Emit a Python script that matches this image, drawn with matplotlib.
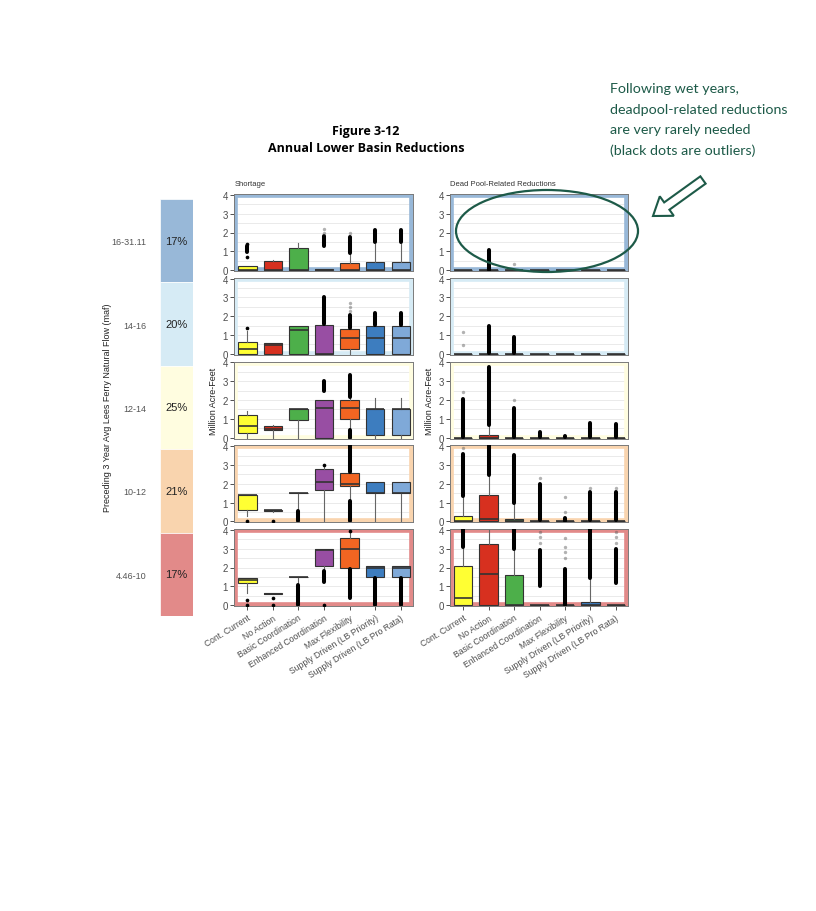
import matplotlib.pyplot as plt
import numpy as np
from matplotlib.patches import Rectangle, Ellipse, FancyArrow

plt.rcParams['font.family'] = ['Liberation Sans', 'DejaVu Sans']

# categories
scenarios = ["Cont. Current", "No Action", "Basic Coordination", "Enhanced Coordination",
             "Max Flexibility", "Supply Driven (LB Priority)", "Supply Driven (LB Pro Rata)"]
scenario_colors = ["#ffff33", "#d7301f", "#4daf4a", "#984ea3", "#f26522", "#3d7dbf", "#7fa9d8"]

flow_bins = ["16-31.11", "14-16", "12-14", "10-12", "4.46-10"]
bin_share = ["17%", "20%", "25%", "21%", "17%"]
bin_colors = ["#98b8d8", "#d6ebf5", "#fffde0", "#f9d4ae", "#e28a89"]

# shortage box stats, one row per flow bin
short_q1 = [[0, 0, 0, 0, 0, 0, 0],
            [0, 0, 0, 0, 0.23, 0, 0],
            [0.23, 0.4, 0.93, 0, 0.98, 0.12, 0.15],
            [0.6, 0.56, 1.5, 1.68, 1.9, 1.5, 1.5],
            [1.15, 0.58, 1.48, 2.1, 2.0, 1.48, 1.5]]
short_med = [[0, 0, 0, 0, 0, 0, 0],
             [0.23, 0.45, 1.27, 0, 0.86, 0.86, 0.86],
             [0.63, 0.48, 1.5, 1.6, 1.57, 1.5, 1.5],
             [1.4, 0.6, 1.5, 2.07, 1.98, 1.5, 1.5],
             [1.35, 0.6, 1.48, 2.95, 2.98, 2.0, 1.95]]
short_q3 = [[0.22, 0.5, 1.17, 0.05, 0.38, 0.42, 0.42],
            [0.63, 0.59, 1.49, 1.52, 1.31, 1.49, 1.49],
            [1.2, 0.63, 1.5, 2.0, 2.0, 1.5, 1.5],
            [1.41, 0.62, 1.5, 2.78, 2.57, 2.1, 2.1],
            [1.42, 0.62, 1.48, 2.98, 3.56, 2.1, 2.1]]
short_wlo = [[0, 0, 0, 0, 0, 0, 0],
             [0, 0, 0, 0, 0, 0, 0],
             [0, 0, 0, 0, 0.45, 0, 0],
             [0.28, 0.5, 0.6, 0, 1.15, 0, 0],
             [0.62, 0.58, 1.1, 1.8, 1.95, 1.48, 1.5]]
short_whi = [[0.22, 0.55, 1.45, 0.05, 0.85, 1.4, 1.4],
             [1.22, 0.6, 1.49, 1.52, 1.35, 1.49, 1.49],
             [1.4, 0.65, 1.5, 2.0, 2.1, 2.1, 2.1],
             [1.41, 0.62, 1.5, 3.0, 2.6, 2.1, 2.1],
             [1.42, 0.62, 1.48, 2.98, 3.9, 2.1, 2.1]]
# dense outlier runs: (row, scenario, low, high)
short_runs = [(0, 0, 0.95, 1.28), (0, 3, 1.28, 1.82), (0, 4, 0.9, 1.75), (0, 5, 1.48, 2.12), (0, 6, 1.48, 2.12),
              (1, 3, 1.6, 3.0), (1, 4, 1.4, 2.05), (1, 5, 1.55, 2.15), (1, 6, 1.55, 2.15),
              (2, 3, 2.5, 3.02), (2, 4, 2.15, 3.35), (2, 4, 0.0, 0.4),
              (3, 2, 0.0, 0.55), (3, 4, 2.65, 4.05), (3, 4, 0.0, 1.1),
              (4, 2, 0.0, 1.05), (4, 3, 1.25, 1.8), (4, 4, 0.35, 1.9), (4, 5, 0.0, 1.45), (4, 6, 0.0, 1.45)]
# single outliers: (row, scenario, value)
short_dots = [(0, 0, 0.68), (0, 0, 1.4), (1, 0, 1.38), (3, 0, 0), (3, 1, 0), (3, 3, 3.0),
              (4, 0, 0.25), (4, 0, 0), (4, 1, 0.4), (4, 1, 0), (4, 3, 0), (4, 4, 3.96)]
short_faint = [(0, 3, 2.0), (0, 3, 2.2), (0, 4, 1.95), (1, 4, 2.3), (1, 4, 2.5), (1, 4, 2.7)]

# dead pool-related reductions box stats
dead_q1 = [[0] * 7 for _ in range(5)]
dead_med = [[0, 0, 0, 0, 0, 0, 0],
            [0, 0, 0, 0, 0, 0, 0],
            [0, 0, 0, 0, 0, 0, 0],
            [0, 0.1, 0, 0, 0, 0, 0],
            [0.4, 1.65, 0, 0, 0, 0, 0]]
dead_q3 = [[0, 0, 0, 0, 0, 0, 0],
           [0, 0, 0, 0, 0, 0, 0],
           [0, 0.14, 0, 0, 0, 0, 0],
           [0.29, 1.41, 0.12, 0, 0, 0, 0],
           [2.08, 3.24, 1.62, 0, 0, 0.18, 0]]
dead_wlo = [[0] * 7 for _ in range(5)]
dead_whi = [[0, 0, 0, 0, 0, 0, 0],
            [0, 0, 0, 0, 0, 0, 0],
            [0, 0.63, 0, 0, 0, 0, 0],
            [1.3, 2.39, 0.96, 0, 0, 0, 0],
            [3.04, 4.05, 2.95, 0, 0, 1.39, 0]]
dead_runs = [(0, 1, 0.02, 1.05),
             (1, 1, 0.05, 1.5), (1, 2, 0.02, 0.9),
             (2, 0, 0.05, 2.05), (2, 1, 0.65, 3.75), (2, 2, 0.05, 1.6), (2, 3, 0.02, 0.3),
             (2, 4, 0.02, 0.1), (2, 5, 0.02, 0.8), (2, 6, 0.02, 0.7),
             (3, 0, 1.35, 3.6), (3, 1, 2.45, 4.05), (3, 2, 1.0, 3.55), (3, 3, 0.05, 2.0),
             (3, 4, 0.02, 0.2), (3, 5, 0.05, 1.55), (3, 6, 0.05, 1.55),
             (4, 0, 3.1, 4.05), (4, 2, 3.0, 4.05), (4, 3, 1.0, 2.95), (4, 4, 0.02, 1.9),
             (4, 5, 1.45, 4.05), (4, 6, 1.15, 3.0)]
dead_dots = []
dead_faint = [(0, 2, 0.3), (1, 0, 1.15), (1, 0, 0.45), (2, 0, 2.4), (2, 2, 2.0),
              (3, 0, 3.9), (3, 3, 2.3), (3, 4, 0.5), (3, 4, 1.3), (3, 5, 1.75), (3, 6, 1.8),
              (4, 3, 3.3), (4, 3, 3.6), (4, 3, 3.9), (4, 4, 2.5), (4, 4, 2.8), (4, 4, 3.1),
              (4, 4, 3.55), (4, 6, 3.3), (4, 6, 3.6), (4, 6, 3.9)]

panel_sets = [
    (short_q1, short_med, short_q3, short_wlo, short_whi, short_runs, short_dots, short_faint),
    (dead_q1, dead_med, dead_q3, dead_wlo, dead_whi, dead_runs, dead_dots, dead_faint),
]

W, H = 816, 912
fig = plt.figure(figsize=(W / 100, H / 100), dpi=100)
fig.patch.set_facecolor('white')


def fig_box(x0, y0, x1, y1):
    return [x0 / W, 1 - y1 / H, (x1 - x0) / W, (y1 - y0) / H]


pos = np.arange(1, 8)
panels_x = [(234, 413), (450, 628)]
for r in range(5):
    top = 195 + 83.75 * r
    for s, (x0, x1) in enumerate(panels_x):
        q1, med, q3, wlo, whi, runs, dots, faint = panel_sets[s]
        ax = fig.add_axes(fig_box(x0, top, x1, top + 77))
        ax.set_xlim(0.48, 7.48)
        ax.set_ylim(-0.05, 4.05)
        ax.set_yticks([0, 1, 2, 3, 4])
        ax.set_yticks(np.arange(0.5, 4, 1), minor=True)
        ax.grid(axis='y', which='both', color='#e6e6e6', lw=0.6, zorder=0)
        ax.set_axisbelow(True)
        ax.add_patch(Rectangle((0, 0), 1, 1, transform=ax.transAxes, fill=False,
                               edgecolor=bin_colors[r], lw=5.5, zorder=1))
        st = [dict(q1=q1[r][c], med=med[r][c], q3=q3[r][c], whislo=wlo[r][c],
                   whishi=whi[r][c], fliers=[]) for c in range(7)]
        bp = ax.bxp(st, positions=pos, widths=0.72, patch_artist=True,
                    showcaps=False, showfliers=False,
                    boxprops=dict(edgecolor='#333333', linewidth=0.8),
                    medianprops=dict(color='#333333', linewidth=1.2),
                    whiskerprops=dict(color='#666666', linewidth=0.8))
        for patch, col in zip(bp['boxes'], scenario_colors):
            patch.set_facecolor(col)
        rr = [t for t in runs if t[0] == r]
        if rr:
            ax.vlines([pos[t[1]] for t in rr], [t[2] for t in rr], [t[3] for t in rr],
                      color='black', lw=2.9, capstyle='round', zorder=3)
        dd = [t for t in dots if t[0] == r]
        if dd:
            ax.scatter([pos[t[1]] for t in dd], [t[2] for t in dd], s=7, color='black',
                       zorder=3, linewidths=0)
        ff = [t for t in faint if t[0] == r]
        if ff:
            ax.scatter([pos[t[1]] for t in ff], [t[2] for t in ff], s=6, color='#555555',
                       alpha=0.45, zorder=3, linewidths=0)
        for sp in ax.spines.values():
            sp.set_color('#7a7a7a')
            sp.set_linewidth(0.7)
        ax.tick_params(axis='y', which='major', length=3, width=0.6, color='#333333',
                       labelsize=7, labelcolor='#4d4d4d', pad=1.5)
        ax.tick_params(axis='y', which='minor', length=0)
        if r == 4:
            ax.set_xticks(pos)
            ax.set_xticklabels(scenarios, rotation=32, ha='right', rotation_mode='anchor',
                               fontsize=6.2, color='#4d4d4d')
            ax.tick_params(axis='x', length=3, width=0.6, color='#333333', pad=2)
        else:
            ax.set_xticks([])
        if r == 2:
            ax.set_ylabel("Million Acre-Feet", fontsize=6.5, color='#222222', labelpad=3)

# flow bin strip
sax = fig.add_axes(fig_box(160, 200, 193, 617))
sax.barh(np.arange(5), [1] * 5, height=1, color=bin_colors, edgecolor='white', lw=0.5)
sax.set_xlim(0, 1)
sax.set_ylim(4.5, -0.5)
sax.set_xticks([])
sax.set_yticks(np.arange(5))
sax.set_yticklabels(flow_bins, fontsize=6.5, color='#555555')
sax.tick_params(axis='y', length=0, pad=10)
for sp in sax.spines.values():
    sp.set_visible(False)
for i, t in enumerate(bin_share):
    sax.text(0.5, i, t, ha='center', va='center', fontsize=8, color='#222222')

# overlay for titles and notes, in pixel units
ov = fig.add_axes([0, 0, 1, 1], zorder=10)
ov.set_xlim(0, W)
ov.set_ylim(H, 0)
ov.axis('off')
ov.text(366, 132, "Figure 3-12", ha='center', va='center', fontsize=9,
        fontweight='bold', family='Open Sans')
ov.text(366, 149, "Annual Lower Basin Reductions", ha='center', va='center', fontsize=9,
        fontweight='bold', family='Open Sans')
ov.text(235, 184, "Shortage", ha='left', va='center', fontsize=5.5, color='#333333')
ov.text(450, 184, "Dead Pool-Related Reductions", ha='left', va='center', fontsize=5.5,
        color='#333333')
ov.text(108, 408, "Preceding 3 Year Avg Lees Ferry Natural Flow (maf)", rotation=90,
        ha='center', va='center', fontsize=6.5, color='#222222')

green = '#1d5a48'
ov.add_patch(Ellipse((547, 232), 182, 82, fill=False, edgecolor=green, lw=1.6))
ov.add_patch(FancyArrow(703, 181, -50, 36, width=9, head_width=24, head_length=17,
                        length_includes_head=True, facecolor='white', edgecolor=green, lw=1.5))
note = ["Following wet years,", "deadpool-related reductions",
        "are very rarely needed", "(black dots are outliers)"]
for i, line in enumerate(note):
    ov.text(610, 89 + 20.5 * i, line, ha='left', va='center', fontsize=10.3,
            color=green, family='Lato')

fig.savefig("out.png", dpi=100)
